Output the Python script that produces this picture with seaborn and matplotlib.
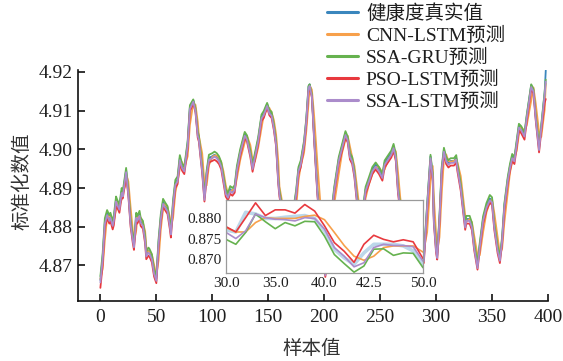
import numpy as np
import pandas as pd
import matplotlib
matplotlib.use("Agg")
import matplotlib.pyplot as plt
import seaborn as sns

# ---------------- data ----------------
series_names = ["健康度真实值", "CNN-LSTM预测", "SSA-GRU预测", "PSO-LSTM预测", "SSA-LSTM预测"]
series_colors = ["#3a86bd", "#f7a04b", "#66b24f", "#e8393e", "#ab8ccb"]

samples = [0, 2, 4, 6, 8, 9, 11, 12, 14, 15,
           17, 19, 20, 22, 23, 25, 27, 29, 30, 32,
           33, 35, 36, 38, 40, 41, 43, 44, 46, 48,
           50, 52, 54, 56, 58, 60, 62, 63, 65, 67,
           69, 71, 73, 75, 78, 80, 83, 85, 87, 88,
           91, 93, 95, 97, 100, 102, 104, 106, 108, 110,
           112, 114, 116, 118, 120, 122, 125, 129, 131, 134,
           136, 138, 141, 144, 146, 149, 151, 153, 155, 157,
           159, 160, 162, 165, 168, 171, 175, 177, 179, 182,
           184, 186, 187, 189, 191, 194, 197, 199, 201, 203,
           206, 209, 213, 216, 219, 221, 223, 225, 227, 229,
           231, 233, 235, 237, 240, 243, 246, 249, 252, 254,
           257, 260, 262, 264, 266, 268, 271, 274, 277, 280,
           283, 286, 289, 292, 295, 297, 298, 300, 301, 303,
           305, 307, 309, 311, 313, 316, 318, 319, 322, 324,
           326, 327, 330, 332, 334, 337, 339, 342, 345, 348,
           350, 352, 355, 357, 359, 361, 364, 366, 368, 370,
           372, 374, 376, 379, 381, 385, 387, 389, 392, 394,
           397, 398]

truth = [4.8662, 4.8720, 4.8812, 4.8835, 4.8820, 4.8828, 4.8807, 4.8820, 4.8870, 4.8862,
         4.8849, 4.8892, 4.8883, 4.8925, 4.8946, 4.8888, 4.8811, 4.8768, 4.8752, 4.8828,
         4.8820, 4.8833, 4.8815, 4.8807, 4.8768, 4.8728, 4.8738, 4.8734, 4.8721, 4.8683,
         4.8666, 4.8760, 4.8825, 4.8864, 4.8854, 4.8845, 4.8807, 4.8785, 4.8862, 4.8914,
         4.8922, 4.8978, 4.8956, 4.8948, 4.9016, 4.9110, 4.9127, 4.9102, 4.9040, 4.9030,
         4.8948, 4.8875, 4.8939, 4.8978, 4.8982, 4.8986, 4.8982, 4.8974, 4.8960, 4.8925,
         4.8890, 4.8880, 4.8897, 4.8892, 4.8900, 4.8950, 4.8995, 4.9040, 4.9030, 4.8991,
         4.8954, 4.8982, 4.9025, 4.9085, 4.9093, 4.9117, 4.9097, 4.9092, 4.9060, 4.9017,
         4.8920, 4.8888, 4.8854, 4.8800, 4.8770, 4.8810, 4.8890, 4.8948, 4.8965, 4.9017,
         4.9076, 4.9162, 4.9168, 4.9140, 4.9034, 4.8888, 4.8800, 4.8720, 4.8680, 4.8720,
         4.8820, 4.8897, 4.8974, 4.9008, 4.9042, 4.9028, 4.8985, 4.8974, 4.8939, 4.8880,
         4.8840, 4.8820, 4.8850, 4.8897, 4.8922, 4.8948, 4.8960, 4.8948, 4.8931, 4.8965,
         4.8978, 4.8991, 4.9008, 4.8982, 4.8897, 4.8850, 4.8790, 4.8760, 4.8790, 4.8830,
         4.8800, 4.8760, 4.8717, 4.8854, 4.8982, 4.8931, 4.8820, 4.8743, 4.8726, 4.8820,
         4.8948, 4.8999, 4.8974, 4.8965, 4.8970, 4.8970, 4.8978, 4.8956, 4.8905, 4.8854,
         4.8803, 4.8820, 4.8820, 4.8803, 4.8751, 4.8700, 4.8751, 4.8820, 4.8854, 4.8873,
         4.8868, 4.8803, 4.8743, 4.8717, 4.8768, 4.8854, 4.8922, 4.8956, 4.8982, 4.8974,
         4.9017, 4.9061, 4.9055, 4.9038, 4.9085, 4.9166, 4.9153, 4.9085, 4.9004, 4.9059,
         4.9145, 4.9204]

cnn_lstm = [4.8665, 4.8691, 4.8766, 4.8824, 4.8828, 4.8824, 4.8818, 4.8814, 4.8845, 4.8866,
            4.8856, 4.8870, 4.8888, 4.8904, 4.8936, 4.8917, 4.8850, 4.8790, 4.8760, 4.8790,
            4.8824, 4.8827, 4.8824, 4.8811, 4.8788, 4.8748, 4.8733, 4.8736, 4.8728, 4.8702,
            4.8675, 4.8713, 4.8793, 4.8845, 4.8859, 4.8850, 4.8826, 4.8796, 4.8824, 4.8888,
            4.8918, 4.8950, 4.8967, 4.8952, 4.8982, 4.9063, 4.9119, 4.9115, 4.9071, 4.9035,
            4.8989, 4.8912, 4.8907, 4.8959, 4.8980, 4.8984, 4.8984, 4.8978, 4.8967, 4.8943,
            4.8908, 4.8885, 4.8889, 4.8895, 4.8896, 4.8925, 4.8973, 4.9018, 4.9035, 4.9011,
            4.8973, 4.8968, 4.9004, 4.9055, 4.9089, 4.9105, 4.9107, 4.9095, 4.9076, 4.9039,
            4.8969, 4.8904, 4.8871, 4.8827, 4.8785, 4.8790, 4.8850, 4.8919, 4.8957, 4.8991,
            4.9047, 4.9119, 4.9165, 4.9154, 4.9087, 4.8961, 4.8844, 4.8760, 4.8700, 4.8700,
            4.8770, 4.8859, 4.8936, 4.8991, 4.9025, 4.9035, 4.9007, 4.8980, 4.8957, 4.8910,
            4.8860, 4.8830, 4.8835, 4.8874, 4.8910, 4.8935, 4.8954, 4.8954, 4.8940, 4.8948,
            4.8972, 4.8985, 4.9000, 4.8995, 4.8940, 4.8874, 4.8820, 4.8775, 4.8775, 4.8810,
            4.8815, 4.8780, 4.8739, 4.8786, 4.8918, 4.8957, 4.8876, 4.8782, 4.8735, 4.8773,
            4.8884, 4.8974, 4.8987, 4.8970, 4.8968, 4.8970, 4.8974, 4.8967, 4.8931, 4.8880,
            4.8829, 4.8812, 4.8820, 4.8812, 4.8777, 4.8726, 4.8726, 4.8786, 4.8837, 4.8864,
            4.8871, 4.8836, 4.8773, 4.8730, 4.8743, 4.8811, 4.8888, 4.8939, 4.8969, 4.8978,
            4.8996, 4.9039, 4.9058, 4.9047, 4.9062, 4.9126, 4.9160, 4.9119, 4.9045, 4.9032,
            4.9102, 4.9170]

ssa_gru = [4.8672, 4.8730, 4.8822, 4.8843, 4.8830, 4.8836, 4.8815, 4.8828, 4.8878, 4.8870,
           4.8857, 4.8900, 4.8891, 4.8933, 4.8952, 4.8896, 4.8819, 4.8776, 4.8760, 4.8836,
           4.8828, 4.8841, 4.8823, 4.8815, 4.8776, 4.8736, 4.8746, 4.8742, 4.8729, 4.8690,
           4.8672, 4.8768, 4.8833, 4.8872, 4.8862, 4.8853, 4.8815, 4.8792, 4.8870, 4.8921,
           4.8930, 4.8985, 4.8963, 4.8955, 4.9022, 4.9114, 4.9129, 4.9106, 4.9046, 4.9036,
           4.8955, 4.8882, 4.8946, 4.8986, 4.8990, 4.8994, 4.8990, 4.8982, 4.8967, 4.8932,
           4.8897, 4.8887, 4.8905, 4.8900, 4.8907, 4.8957, 4.9001, 4.9045, 4.9036, 4.8997,
           4.8961, 4.8989, 4.9031, 4.9090, 4.9099, 4.9120, 4.9102, 4.9097, 4.9065, 4.9022,
           4.8926, 4.8894, 4.8860, 4.8806, 4.8776, 4.8816, 4.8896, 4.8954, 4.8971, 4.9022,
           4.9080, 4.9164, 4.9168, 4.9142, 4.9038, 4.8893, 4.8806, 4.8726, 4.8686, 4.8726,
           4.8826, 4.8903, 4.8980, 4.9014, 4.9047, 4.9033, 4.8991, 4.8980, 4.8945, 4.8886,
           4.8846, 4.8826, 4.8856, 4.8903, 4.8928, 4.8954, 4.8966, 4.8954, 4.8937, 4.8971,
           4.8984, 4.8997, 4.9014, 4.8988, 4.8903, 4.8856, 4.8796, 4.8766, 4.8796, 4.8836,
           4.8806, 4.8766, 4.8723, 4.8858, 4.8986, 4.8937, 4.8826, 4.8750, 4.8733, 4.8826,
           4.8954, 4.9004, 4.8980, 4.8972, 4.8977, 4.8977, 4.8985, 4.8963, 4.8912, 4.8861,
           4.8810, 4.8828, 4.8828, 4.8810, 4.8758, 4.8706, 4.8758, 4.8827, 4.8861, 4.8882,
           4.8876, 4.8810, 4.8750, 4.8723, 4.8774, 4.8860, 4.8928, 4.8962, 4.8988, 4.8980,
           4.9022, 4.9066, 4.9060, 4.9043, 4.9089, 4.9168, 4.9156, 4.9090, 4.9010, 4.9064,
           4.9148, 4.9180]

pso_lstm = [4.8642, 4.8700, 4.8797, 4.8822, 4.8808, 4.8814, 4.8793, 4.8804, 4.8855, 4.8850,
            4.8836, 4.8877, 4.8873, 4.8910, 4.8932, 4.8880, 4.8800, 4.8757, 4.8740, 4.8812,
            4.8808, 4.8820, 4.8802, 4.8795, 4.8756, 4.8716, 4.8725, 4.8722, 4.8708, 4.8671,
            4.8654, 4.8745, 4.8812, 4.8852, 4.8842, 4.8833, 4.8795, 4.8772, 4.8848, 4.8900,
            4.8910, 4.8965, 4.8945, 4.8936, 4.9002, 4.9098, 4.9119, 4.9096, 4.9030, 4.9020,
            4.8938, 4.8865, 4.8927, 4.8966, 4.8970, 4.8973, 4.8969, 4.8962, 4.8948, 4.8913,
            4.8878, 4.8868, 4.8885, 4.8880, 4.8888, 4.8938, 4.8983, 4.9030, 4.9020, 4.8980,
            4.8942, 4.8970, 4.9013, 4.9073, 4.9081, 4.9108, 4.9088, 4.9081, 4.9050, 4.9008,
            4.8910, 4.8878, 4.8844, 4.8790, 4.8760, 4.8800, 4.8878, 4.8936, 4.8953, 4.9005,
            4.9064, 4.9150, 4.9160, 4.9134, 4.9024, 4.8878, 4.8790, 4.8710, 4.8670, 4.8710,
            4.8808, 4.8885, 4.8962, 4.8996, 4.9030, 4.9018, 4.8974, 4.8962, 4.8928, 4.8869,
            4.8829, 4.8809, 4.8838, 4.8885, 4.8910, 4.8936, 4.8948, 4.8936, 4.8919, 4.8953,
            4.8966, 4.8979, 4.8996, 4.8970, 4.8885, 4.8838, 4.8779, 4.8749, 4.8779, 4.8818,
            4.8789, 4.8749, 4.8706, 4.8840, 4.8970, 4.8920, 4.8810, 4.8732, 4.8715, 4.8808,
            4.8935, 4.8987, 4.8962, 4.8953, 4.8958, 4.8958, 4.8966, 4.8944, 4.8893, 4.8843,
            4.8792, 4.8808, 4.8808, 4.8791, 4.8740, 4.8689, 4.8740, 4.8808, 4.8842, 4.8862,
            4.8856, 4.8792, 4.8731, 4.8706, 4.8756, 4.8842, 4.8910, 4.8944, 4.8970, 4.8962,
            4.9004, 4.9049, 4.9042, 4.9025, 4.9072, 4.9155, 4.9145, 4.9076, 4.8992, 4.9046,
            4.9120, 4.9130]

ssa_lstm = [4.8656, 4.8714, 4.8807, 4.8830, 4.8815, 4.8823, 4.8802, 4.8815, 4.8865, 4.8857,
            4.8844, 4.8887, 4.8878, 4.8920, 4.8941, 4.8883, 4.8806, 4.8763, 4.8747, 4.8823,
            4.8815, 4.8828, 4.8810, 4.8802, 4.8763, 4.8723, 4.8733, 4.8729, 4.8716, 4.8678,
            4.8660, 4.8754, 4.8819, 4.8859, 4.8849, 4.8840, 4.8802, 4.8780, 4.8856, 4.8908,
            4.8917, 4.8972, 4.8951, 4.8943, 4.9010, 4.9104, 4.9123, 4.9098, 4.9035, 4.9025,
            4.8943, 4.8869, 4.8934, 4.8973, 4.8977, 4.8981, 4.8977, 4.8969, 4.8955, 4.8920,
            4.8885, 4.8875, 4.8892, 4.8887, 4.8895, 4.8945, 4.8990, 4.9035, 4.9025, 4.8986,
            4.8949, 4.8977, 4.9020, 4.9080, 4.9088, 4.9112, 4.9092, 4.9087, 4.9055, 4.9012,
            4.8915, 4.8883, 4.8849, 4.8795, 4.8765, 4.8805, 4.8885, 4.8943, 4.8960, 4.9012,
            4.9071, 4.9157, 4.9164, 4.9136, 4.9030, 4.8883, 4.8795, 4.8715, 4.8674, 4.8715,
            4.8815, 4.8892, 4.8969, 4.9003, 4.9037, 4.9023, 4.8980, 4.8969, 4.8934, 4.8875,
            4.8835, 4.8815, 4.8845, 4.8892, 4.8917, 4.8943, 4.8955, 4.8943, 4.8926, 4.8960,
            4.8973, 4.8986, 4.9003, 4.8977, 4.8892, 4.8845, 4.8785, 4.8755, 4.8785, 4.8825,
            4.8795, 4.8755, 4.8710, 4.8849, 4.8977, 4.8926, 4.8815, 4.8737, 4.8719, 4.8815,
            4.8943, 4.8994, 4.8969, 4.8960, 4.8965, 4.8965, 4.8973, 4.8951, 4.8900, 4.8849,
            4.8798, 4.8815, 4.8815, 4.8798, 4.8746, 4.8693, 4.8746, 4.8815, 4.8849, 4.8868,
            4.8863, 4.8798, 4.8738, 4.8712, 4.8763, 4.8849, 4.8917, 4.8951, 4.8977, 4.8969,
            4.9012, 4.9056, 4.9050, 4.9033, 4.9080, 4.9161, 4.9149, 4.9080, 4.8998, 4.9054,
            4.9140, 4.9175]

# zoomed inset (samples 30-50)
inset_samples = list(range(30, 51))
inset_truth = [0.8772, 0.8767, 0.8815, 0.8811, 0.8800, 0.8800, 0.8803, 0.8805, 0.8807, 0.8800,
               0.8770, 0.8725, 0.8704, 0.8688, 0.8716, 0.8737, 0.8737, 0.8737, 0.8733, 0.8721, 0.8688]
inset_cnn = [0.8778, 0.8767, 0.8767, 0.8790, 0.8802, 0.8800, 0.8800, 0.8800, 0.8805, 0.8808,
             0.8797, 0.8766, 0.8734, 0.8708, 0.8698, 0.8708, 0.8729, 0.8733, 0.8733, 0.8733, 0.8718]
inset_gru = [0.8749, 0.8737, 0.8766, 0.8811, 0.8792, 0.8775, 0.8790, 0.8782, 0.8793, 0.8792,
             0.8757, 0.8712, 0.8690, 0.8669, 0.8684, 0.8725, 0.8726, 0.8710, 0.8716, 0.8715, 0.8680]
inset_pso = [0.8780, 0.8767, 0.8802, 0.8838, 0.8807, 0.8821, 0.8821, 0.8813, 0.8834, 0.8818,
             0.8782, 0.8741, 0.8720, 0.8693, 0.8737, 0.8759, 0.8749, 0.8743, 0.8748, 0.8743, 0.8702]
inset_ssa = [0.8766, 0.8751, 0.8770, 0.8811, 0.8802, 0.8798, 0.8797, 0.8794, 0.8802, 0.8800,
             0.8774, 0.8729, 0.8708, 0.8682, 0.8692, 0.8729, 0.8737, 0.8734, 0.8734, 0.8731, 0.8696]

x_ticks = [0, 50, 100, 150, 200, 250, 300, 350, 400]
y_ticks = [4.87, 4.88, 4.89, 4.90, 4.91, 4.92]
inset_xticks = [30, 35, 40, 44.5, 50]
inset_xticklabels = ["30.0", "35.0", "40.0", "42.5", "50.0"]
inset_yticks = [0.870, 0.875, 0.880]

# ---------------- style ----------------
sns.set_theme(style="ticks")
FAM = ["Liberation Serif", "Noto Sans CJK SC", "DejaVu Sans"]
plt.rcParams["font.family"] = FAM
plt.rcParams["axes.unicode_minus"] = False
TXT = "#1e1e1e"

W, H = 563, 361
fig = plt.figure(figsize=(W / 100, H / 100), dpi=100)
fig.patch.set_facecolor("white")

def fx(px):
    return px / W

def fy(py):
    return 1 - py / H

ax = fig.add_axes([fx(78), fy(301), fx(548) - fx(78), fy(70) - fy(301)])

main_df = pd.concat([
    pd.DataFrame({"样本值": samples, "值": vals, "模型": name})
    for name, vals in zip(series_names, [truth, cnn_lstm, ssa_gru, pso_lstm, ssa_lstm])
])
sns.lineplot(data=main_df, x="样本值", y="值", hue="模型", hue_order=series_names,
             palette=series_colors, linewidth=1.3, ax=ax, legend=False, sort=False,
             estimator=None)

ax.set_xlim(-20, 400)
ax.set_ylim(4.8608, 4.9205)
ax.set_xticks(x_ticks)
ax.set_xticklabels([str(t) for t in x_ticks])
ax.set_yticks(y_ticks)
ax.set_yticklabels([f"{t:.2f}" for t in y_ticks])
ax.set_xlabel("")
ax.set_ylabel("")
for s in ["top", "right"]:
    ax.spines[s].set_visible(False)
for s in ["left", "bottom"]:
    ax.spines[s].set_linewidth(1.2)
    ax.spines[s].set_color("#111111")
ax.tick_params(direction="in", length=5, width=1.2, colors="#111111",
               labelsize=14, labelcolor=TXT)
ax.tick_params(axis="x", pad=6)
ax.tick_params(axis="y", pad=4)
ax.set_facecolor("none")

fig.text(fx(22), fy(181), "标准化数值", rotation=90, ha="center", va="center",
         fontsize=14, color="#333333", family=["Noto Sans CJK SC", "DejaVu Sans"])
fig.text(fx(312), fy(349), "样本值", ha="center", va="center",
         fontsize=14, color="#333333", family=["Noto Sans CJK SC", "DejaVu Sans"])

# legend
handles = ax.get_lines()[:5]
leg = fig.legend(handles, series_names, loc="upper left",
                 bbox_to_anchor=(fx(327), fy(4)), bbox_transform=fig.transFigure,
                 frameon=False, borderpad=0, borderaxespad=0, labelspacing=0.2,
                 handlelength=1.6, handletextpad=0.4, prop={"family": FAM, "size": 14})
for t in leg.get_texts():
    t.set_color(TXT)
for lh in leg.get_lines():
    lh.set_linewidth(2.2)

# inset
axi = fig.add_axes([fx(226), fy(273), fx(423) - fx(226), fy(200) - fy(273)])
axi.set_facecolor("white")
inset_df = pd.concat([
    pd.DataFrame({"x": inset_samples, "y": vals, "模型": name})
    for name, vals in zip(series_names, [inset_truth, inset_cnn, inset_gru, inset_pso, inset_ssa])
])
sns.lineplot(data=inset_df[inset_df["模型"] == series_names[0]], x="x", y="y",
             color="#bcd7ea", linewidth=2.6, ax=axi, legend=False, estimator=None)
sns.lineplot(data=inset_df[inset_df["模型"] != series_names[0]], x="x", y="y", hue="模型",
             hue_order=series_names[1:], palette=series_colors[1:], linewidth=1.2,
             ax=axi, legend=False, estimator=None)
axi.set_xlim(30, 50)
axi.set_ylim(0.8667, 0.8845)
axi.set_xticks(inset_xticks)
axi.set_xticklabels(inset_xticklabels)
axi.set_yticks(inset_yticks)
axi.set_yticklabels([f"{t:.3f}" for t in inset_yticks])
axi.set_xlabel("")
axi.set_ylabel("")
for s in axi.spines.values():
    s.set_visible(True)
    s.set_color("#9a9a9a")
    s.set_linewidth(0.9)
axi.tick_params(length=0, labelsize=11, labelcolor=TXT, pad=3)

fig.savefig("out.png", dpi=100, facecolor="white")
